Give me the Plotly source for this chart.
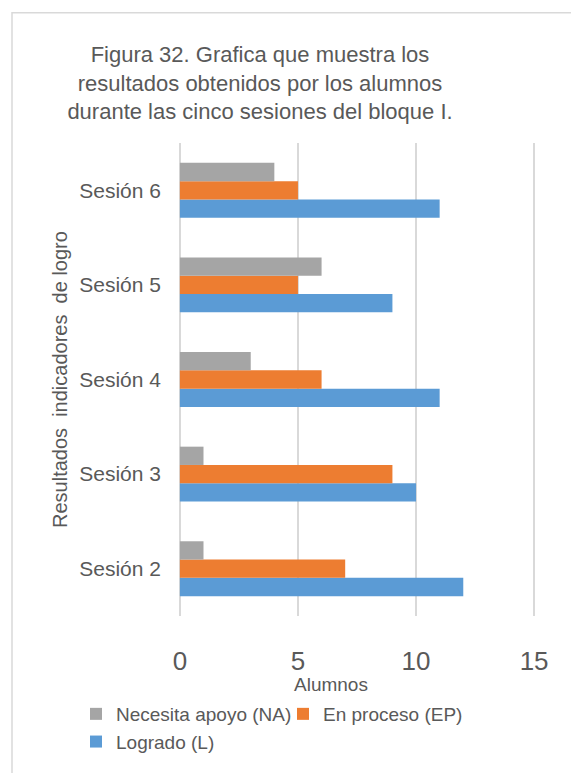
import plotly.graph_objects as go

# Sessions (bottom to top) and number of students per achievement level
sesiones = ["Sesión 2", "Sesión 3", "Sesión 4", "Sesión 5", "Sesión 6"]
logrado = [12, 10, 11, 9, 11]
en_proceso = [7, 9, 6, 5, 5]
necesita_apoyo = [1, 1, 3, 6, 4]

x_ticks = [0, 5, 10, 15]

titulo = ("Figura 32. Grafica que muestra los<br>"
          "resultados obtenidos por los alumnos<br>"
          "durante las cinco sesiones del bloque I.")

TXT = "#595959"
FONT = "Arial, Liberation Sans, sans-serif"

W, H = 571, 773
L, R, T, B = 178, 35, 143, 151
pw, ph = W - L - R, H - T - B


def px_x(p):
    return (p - L) / pw


def px_y(p):
    return (H - B - p) / ph


fig = go.Figure()
fig.add_trace(go.Bar(y=sesiones, x=logrado, orientation="h", name="Logrado (L)",
                     marker=dict(color="#5B9BD5", line=dict(width=0))))
fig.add_trace(go.Bar(y=sesiones, x=en_proceso, orientation="h", name="En proceso (EP)",
                     marker=dict(color="#ED7D31", line=dict(width=0))))
fig.add_trace(go.Bar(y=sesiones, x=necesita_apoyo, orientation="h", name="Necesita apoyo (NA)",
                     marker=dict(color="#A5A5A5", line=dict(width=0))))

fig.update_layout(
    width=W, height=H,
    margin=dict(l=L, r=R, t=T, b=B, pad=0),
    paper_bgcolor="white", plot_bgcolor="white",
    barmode="group", bargap=0.42, bargroupgap=0,
    font=dict(family=FONT, color=TXT),
    title=dict(text=titulo, xref="container", yref="container",
               x=260 / W, y=1 - 62 / H, xanchor="center", yanchor="middle",
               font=dict(size=22, color=TXT, family=FONT)),
    xaxis=dict(range=[-0.08, 15.08], tickvals=x_ticks, ticktext=[str(v) for v in x_ticks],
               showgrid=True, gridcolor="#D9D9D9", gridwidth=2, zeroline=False,
               showline=False, ticks="", ticklabelstandoff=27,
               tickfont=dict(size=26, color=TXT, family=FONT)),
    yaxis=dict(categoryorder="array", categoryarray=sesiones,
               showgrid=False, zeroline=False, showline=False, ticks="",
               ticklabelstandoff=16,
               tickfont=dict(size=21, color=TXT, family=FONT)),
    showlegend=True,
    legend=dict(orientation="h", traceorder="reversed",
                x=px_x(76), y=px_y(702), xanchor="left", yanchor="top",
                entrywidth=162, entrywidthmode="pixels",
                font=dict(size=19, color=TXT, family=FONT),
                bgcolor="rgba(0,0,0,0)", itemclick=False),
)

# Axis titles
fig.add_annotation(text="Alumnos", xref="paper", yref="paper",
                   x=px_x(331), y=px_y(691), xanchor="center", yanchor="middle",
                   showarrow=False, font=dict(size=19, color=TXT, family=FONT))
fig.add_annotation(text="Resultados  indicadores  de logro", xref="paper", yref="paper",
                   x=px_x(60), y=px_y(383), xanchor="center", yanchor="middle",
                   textangle=-90, showarrow=False,
                   font=dict(size=20, color=TXT, family=FONT))

# Chart frame
fig.add_shape(type="rect", xref="paper", yref="paper",
              x0=px_x(12), x1=px_x(W + 20), y0=px_y(H + 20), y1=px_y(11),
              line=dict(color="#D9D9D9", width=1.5), fillcolor="rgba(0,0,0,0)",
              layer="below")

fig.write_html("out.html")
